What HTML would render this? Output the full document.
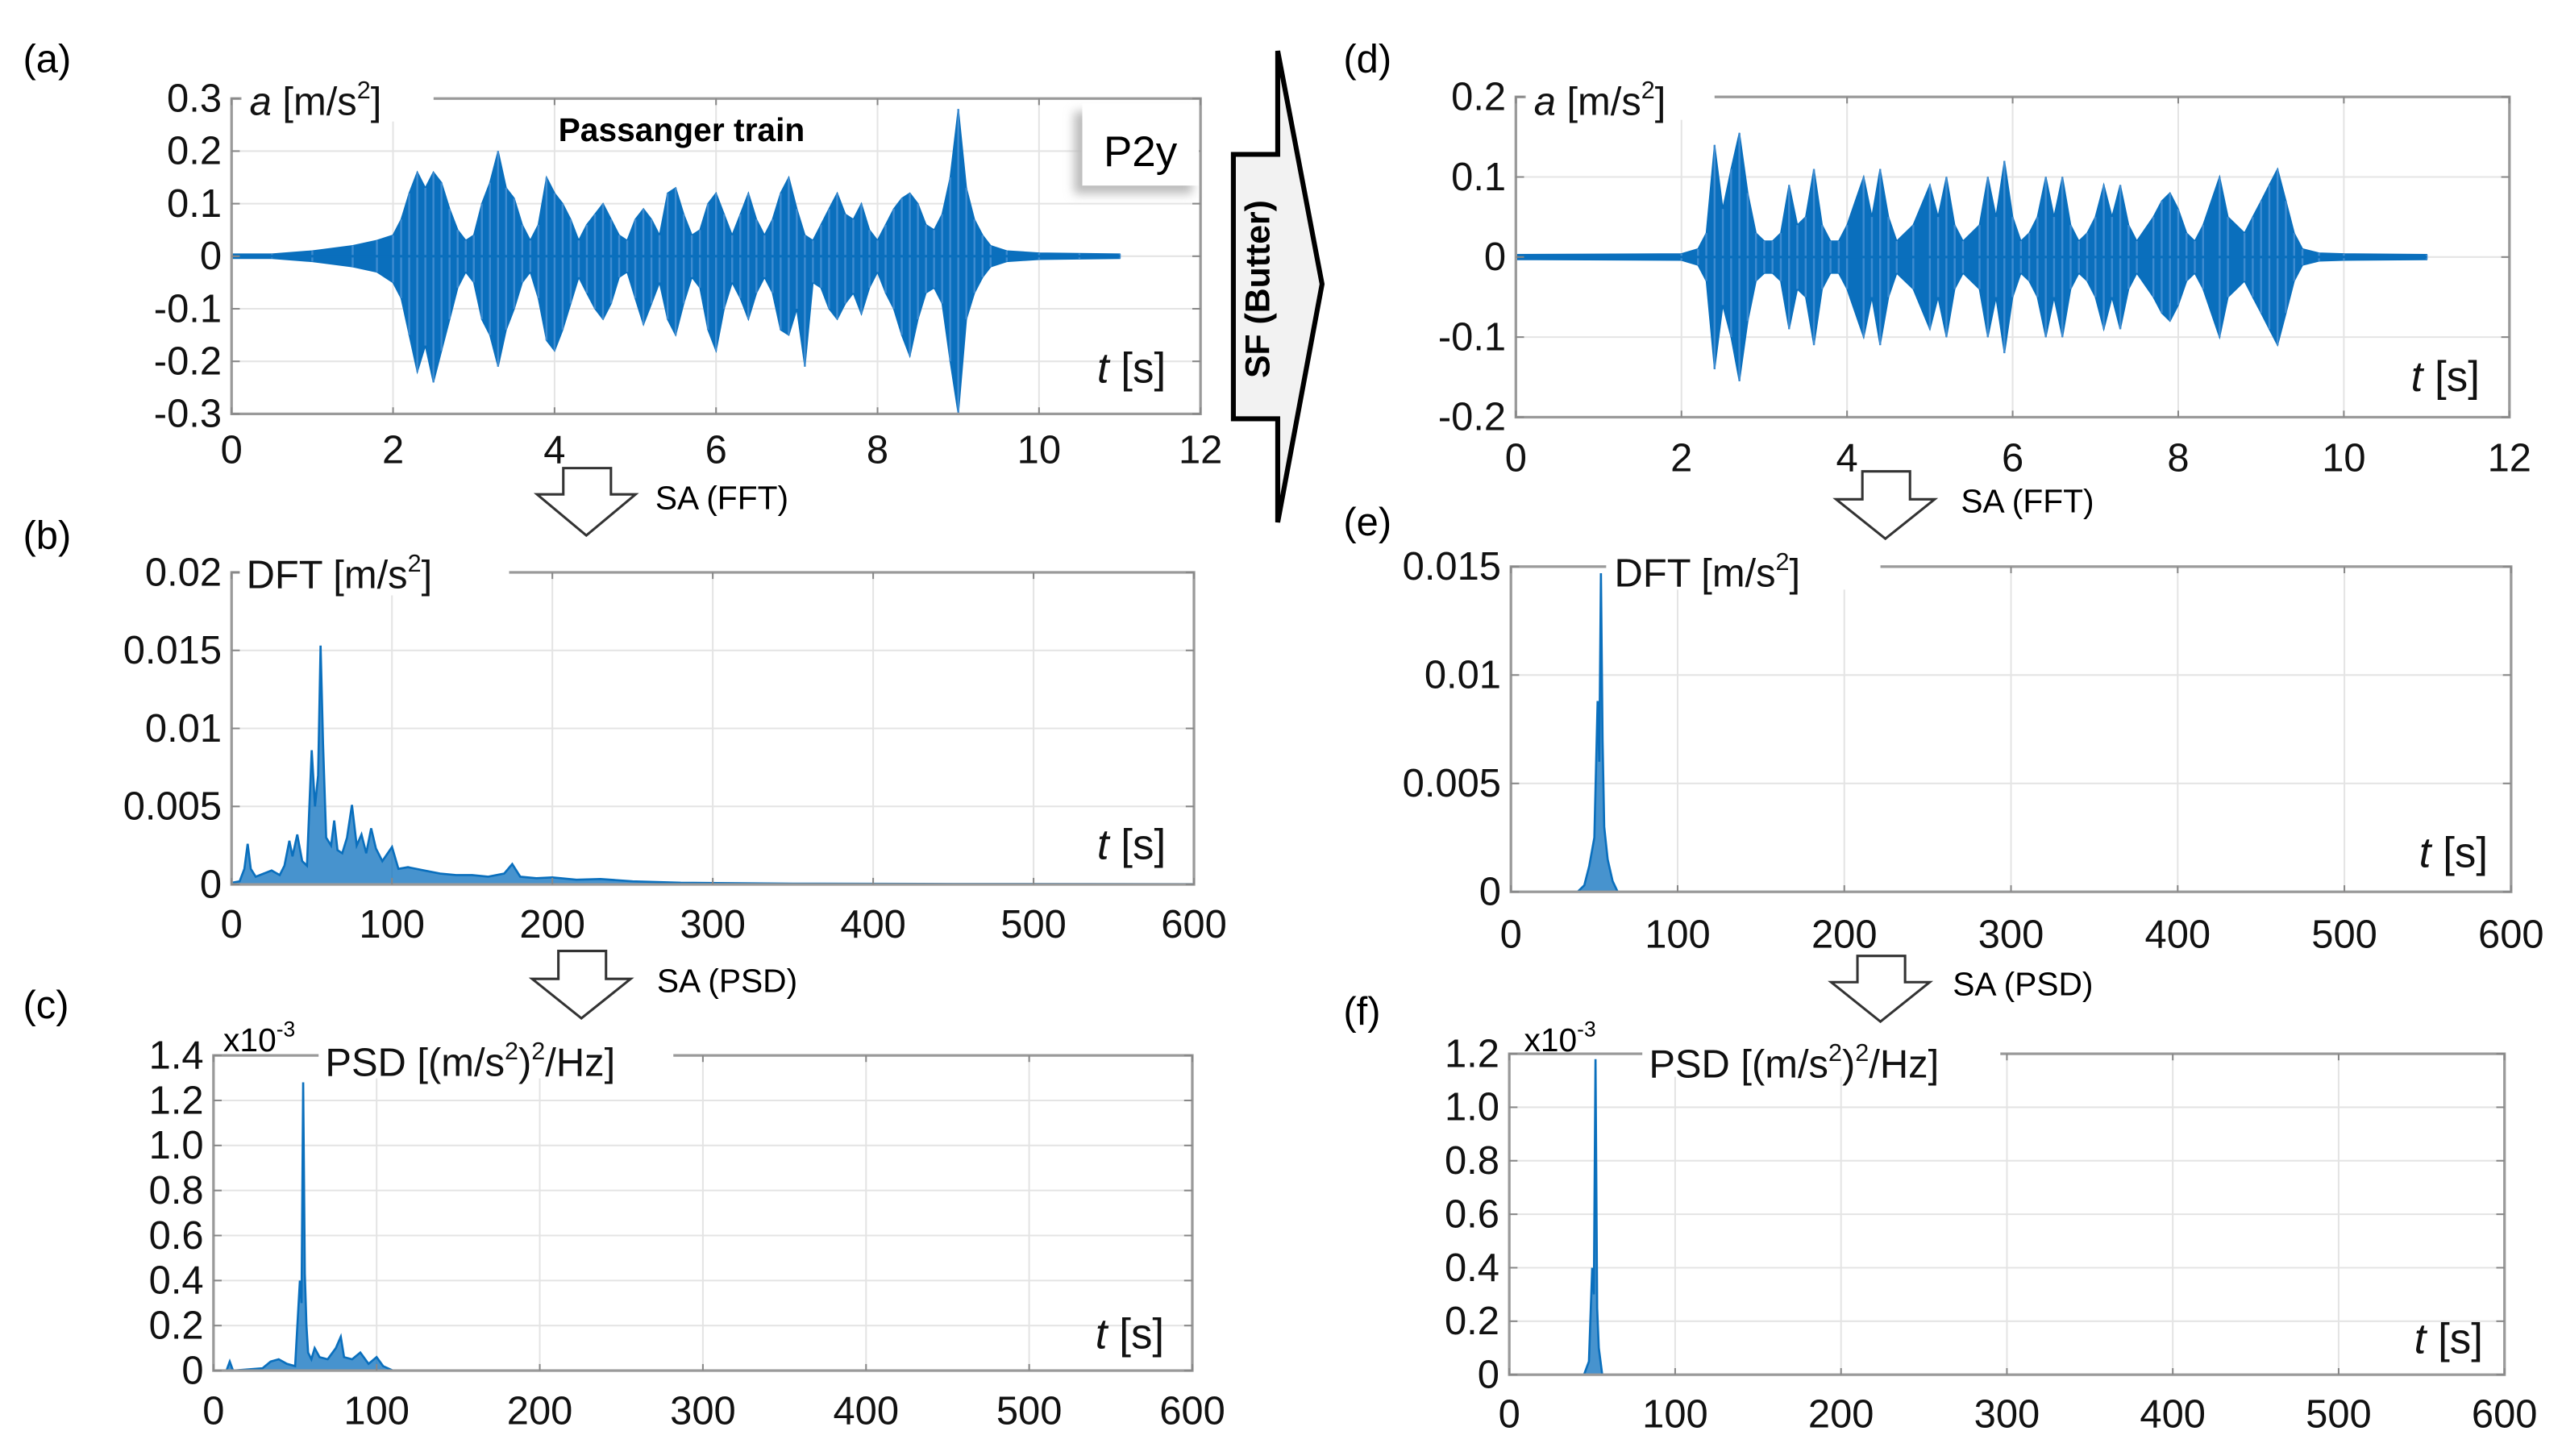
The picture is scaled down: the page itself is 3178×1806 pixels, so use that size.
<!DOCTYPE html>
<html><head><meta charset="utf-8"><style>
html,body{margin:0;padding:0;background:#fff;}
svg{display:block;font-family:"Liberation Sans",sans-serif;}
</style></head><body>
<svg id="fig" width="3178" height="1806" viewBox="0 0 1560 886.5" preserveAspectRatio="none" xmlns="http://www.w3.org/2000/svg">
<defs><filter id="blur" x="-20%" y="-20%" width="140%" height="140%"><feGaussianBlur stdDeviation="3"/></filter></defs>
<rect x="0" y="0" width="1560" height="887" fill="#fff"/>
<g id="panels"></g>
<g id="annot">
  <text x="14" y="44" font-size="24">(a)</text>
  <text x="14" y="334" font-size="24">(b)</text>
  <text x="14" y="620" font-size="24">(c)</text>
  <text x="818" y="44" font-size="24">(d)</text>
  <text x="818" y="326" font-size="24">(e)</text>
  <text x="818" y="624" font-size="24">(f)</text>
  <g>
    <polygon points="751,94 778,94 778,31 805,173 778,318 778,255 751,255" fill="#f2f2f2" stroke="#000" stroke-width="3"/>
    <text x="0" y="0" transform="translate(773,176) rotate(-90)" text-anchor="middle" font-size="21" font-weight="bold">SF (Butter)</text>
  </g>
  <g>
    <polygon points="343,285 372,285 372,301 387,301 357,326 327,301 343,301" fill="#fff" stroke="#333" stroke-width="1.5"/>
    <text x="399" y="310" font-size="20">SA (FFT)</text>
  </g>
  <g>
    <polygon points="340,579 369,579 369,596 384,596 354,620 324,596 340,596" fill="#fff" stroke="#333" stroke-width="1.5"/>
    <text x="400" y="604" font-size="20">SA (PSD)</text>
  </g>
  <g>
    <polygon points="1134,287 1163,287 1163,304 1178,304 1148,328 1118,304 1134,304" fill="#fff" stroke="#333" stroke-width="1.5"/>
    <text x="1194" y="312" font-size="20">SA (FFT)</text>
  </g>
  <g>
    <polygon points="1131,582 1160,582 1160,598 1175,598 1145,622 1115,598 1131,598" fill="#fff" stroke="#333" stroke-width="1.5"/>
    <text x="1189" y="606" font-size="20">SA (PSD)</text>
  </g>
  <g>
    <rect x="654" y="68" width="72" height="50" fill="#bbb" filter="url(#blur)"/>
    <rect x="659" y="63" width="71" height="50" fill="#fff"/>
    <text x="672" y="101" font-size="26">P2y</text>
  </g>
  <text x="340" y="86" font-size="20" font-weight="bold">Passanger train</text>
  <text x="136" y="640" font-size="20">x10<tspan font-size="13" dy="-9">-3</tspan></text>
  <text x="928" y="640" font-size="20">x10<tspan font-size="13" dy="-9">-3</tspan></text>
</g>
</svg>
<script>
// ---------- data ----------
const tA = [0,0.5,1.0,1.5,1.8,2.0,2.1,2.2,2.3,2.4,2.5,2.6,2.7,2.8,2.9,3.0,3.1,3.2,3.3,3.4,3.5,3.6,3.7,3.8,3.9,4.0,4.1,4.2,4.3,4.4,4.5,4.6,4.7,4.8,4.9,5.0,5.1,5.2,5.3,5.4,5.5,5.6,5.7,5.8,5.9,6.0,6.1,6.2,6.3,6.4,6.5,6.6,6.7,6.8,6.9,7.0,7.1,7.2,7.3,7.4,7.5,7.6,7.7,7.8,7.9,8.0,8.1,8.2,8.3,8.4,8.5,8.6,8.7,8.8,8.9,9.0,9.1,9.2,9.3,9.4,9.6,10.0,10.5,11.0];
const posA = [0.004,0.004,0.01,0.02,0.03,0.04,0.07,0.12,0.16,0.13,0.16,0.14,0.09,0.05,0.03,0.04,0.1,0.14,0.2,0.13,0.11,0.06,0.03,0.06,0.15,0.12,0.1,0.07,0.03,0.06,0.08,0.1,0.07,0.04,0.03,0.07,0.09,0.07,0.04,0.12,0.13,0.08,0.04,0.05,0.1,0.12,0.08,0.04,0.08,0.12,0.07,0.04,0.07,0.12,0.15,0.09,0.04,0.03,0.06,0.09,0.12,0.08,0.07,0.1,0.05,0.03,0.06,0.09,0.11,0.12,0.1,0.06,0.05,0.08,0.15,0.28,0.13,0.07,0.04,0.02,0.01,0.006,0.005,0.004];
const negA = [0.004,0.004,0.01,0.02,0.03,0.05,0.08,0.15,0.22,0.17,0.24,0.18,0.12,0.06,0.03,0.05,0.12,0.15,0.21,0.14,0.1,0.05,0.03,0.08,0.16,0.18,0.14,0.09,0.04,0.07,0.1,0.12,0.09,0.04,0.03,0.08,0.13,0.09,0.05,0.12,0.15,0.09,0.04,0.06,0.14,0.18,0.1,0.05,0.08,0.12,0.07,0.04,0.07,0.14,0.15,0.1,0.21,0.05,0.06,0.1,0.12,0.09,0.07,0.11,0.06,0.03,0.07,0.1,0.15,0.19,0.12,0.07,0.06,0.09,0.2,0.3,0.12,0.07,0.04,0.02,0.01,0.006,0.005,0.004];

const tD = [0,2.0,2.2,2.3,2.4,2.5,2.6,2.7,2.8,2.9,3.0,3.1,3.2,3.3,3.4,3.5,3.6,3.7,3.8,3.9,4.0,4.2,4.3,4.4,4.5,4.6,4.8,5.0,5.1,5.2,5.3,5.4,5.6,5.7,5.8,5.9,6.0,6.1,6.2,6.3,6.4,6.5,6.6,6.7,6.8,6.9,7.0,7.1,7.2,7.3,7.4,7.5,7.7,7.8,7.9,8.0,8.1,8.2,8.3,8.5,8.6,8.8,8.9,9.0,9.1,9.2,9.3,9.4,9.5,9.7,10,11];
const posD = [0.003,0.004,0.01,0.03,0.14,0.06,0.11,0.155,0.08,0.03,0.02,0.02,0.03,0.09,0.04,0.05,0.11,0.04,0.02,0.02,0.04,0.1,0.05,0.11,0.05,0.02,0.04,0.09,0.05,0.1,0.04,0.02,0.04,0.1,0.05,0.12,0.05,0.02,0.03,0.05,0.1,0.05,0.1,0.04,0.02,0.03,0.05,0.09,0.05,0.09,0.04,0.02,0.05,0.07,0.08,0.06,0.03,0.02,0.04,0.1,0.05,0.03,0.05,0.07,0.09,0.11,0.07,0.03,0.01,0.005,0.004,0.003];
const negD = [0.003,0.004,0.01,0.03,0.14,0.06,0.1,0.155,0.08,0.03,0.02,0.02,0.03,0.09,0.04,0.05,0.11,0.04,0.02,0.02,0.04,0.1,0.05,0.11,0.05,0.02,0.04,0.09,0.05,0.1,0.04,0.02,0.04,0.1,0.05,0.12,0.05,0.02,0.03,0.05,0.1,0.05,0.1,0.04,0.02,0.03,0.05,0.09,0.05,0.09,0.04,0.02,0.05,0.07,0.08,0.06,0.03,0.02,0.04,0.1,0.05,0.03,0.05,0.07,0.09,0.11,0.07,0.03,0.01,0.005,0.004,0.003];

const freqB = [0,5,8,10,12,15,20,25,30,33,36,38,41,44,47,50,52,54,55.5,57,59,62,64,66,69,72,75,78,81,84,87,90,94,100,104,110,120,130,140,150,160,170,175,180,190,200,215,230,250,280,350,450,600];
const ampB = [0.0001,0.0002,0.001,0.0026,0.001,0.0005,0.0007,0.0009,0.0006,0.0012,0.0028,0.0018,0.0032,0.0015,0.0012,0.0086,0.005,0.007,0.0153,0.009,0.003,0.0025,0.0041,0.0022,0.002,0.003,0.0051,0.0025,0.0032,0.002,0.0036,0.0023,0.0015,0.0024,0.001,0.0011,0.0009,0.0007,0.0006,0.0006,0.0005,0.0007,0.0013,0.0005,0.0004,0.00045,0.0003,0.00035,0.0002,0.0001,0.00005,0.00003,0.00002];

const freqE = [0,40,44,47,50,52,53,54,55,56,58,61,64,600];
const ampE = [0,0,0.0003,0.0012,0.0025,0.0088,0.006,0.0147,0.007,0.003,0.0015,0.0005,0,0];

const freqC = [0,8,10,12,30,35,40,45,50,53,54,55,56,57,58,60,62,65,70,75,78,80,85,90,95,100,104,110,600];
const psdC = [0,0,0.04,0,0.01,0.04,0.05,0.03,0.02,0.4,0.3,1.28,0.43,0.2,0.08,0.05,0.1,0.06,0.05,0.1,0.15,0.06,0.05,0.08,0.03,0.06,0.02,0,0]; // x1e-3

const freqF = [0,45,48,50,51,52,53,54,56,600];
const psdF = [0,0,0.05,0.4,0.3,1.18,0.25,0.1,0,0]; // x1e-3

const ticksTime = ['0','2','4','6','8','10','12'];
const ticksFreq = ['0','100','200','300','400','500','600'];
const ticksYA = ['-0.3','-0.2','-0.1','0','0.1','0.2','0.3'];
const ticksYD = ['-0.2','-0.1','0','0.1','0.2'];
const ticksYB = ['0','0.005','0.01','0.015','0.02'];
const ticksYE = ['0','0.005','0.01','0.015'];
const ticksYC = ['0','0.2','0.4','0.6','0.8','1.0','1.2','1.4'];
const ticksYF = ['0','0.2','0.4','0.6','0.8','1.0','1.2'];

// ---------- drawing ----------
const NS = 'http://www.w3.org/2000/svg';
const root = document.getElementById('panels');
const BLUE = '#0a6fbd';
function mk(tag, attrs, parent){
  const e = document.createElementNS(NS, tag);
  for (const k in attrs) e.setAttribute(k, attrs[k]);
  (parent||root).appendChild(e);
  return e;
}
function panel(p){
  const g = mk('g', {});
  
  
  const sx = v => p.L + (v - p.x0) / (p.x1 - p.x0) * (p.R - p.L);
  const sy = v => p.B - (v - p.y0) / (p.y1 - p.y0) * (p.B - p.T);
  p.xt.forEach(t => { const x = sx(+t);
    mk('line', {x1:x, x2:x, y1:p.T, y2:p.B, stroke:'#e4e4e4', 'stroke-width':1}, g); });
  p.yt.forEach(t => { const y = sy(+t);
    mk('line', {x1:p.L, x2:p.R, y1:y, y2:y, stroke:'#e4e4e4', 'stroke-width':1}, g); });
  const dg = mk('g', {}, g);
  
  
  if (p.type === 'band') {
    const n = Math.min(p.xs.length, p.pos.length, p.neg.length);
    let pts = [];
    for (let i=0;i<n;i++) pts.push(sx(p.xs[i]).toFixed(1)+','+sy(p.pos[i]).toFixed(1));
    for (let i=n-1;i>=0;i--) pts.push(sx(p.xs[i]).toFixed(1)+','+sy(-p.neg[i]).toFixed(1));
    mk('polygon', {points:pts.join(' '), fill:BLUE, stroke:BLUE, 'stroke-width':0.8}, dg);
    for (let i=0;i<n;i++) {
      const l = mk('line', {x1:sx(p.xs[i]), x2:sx(p.xs[i]), y1:sy(p.pos[i]), y2:sy(-p.neg[i]), stroke:'#3d8bd0', 'stroke-width':1.2}, dg);
      
      
    }
    mk('line', {x1:sx(p.xs[0]), x2:sx(p.xs[n-1]), y1:sy(0), y2:sy(0), stroke:BLUE, 'stroke-width':1.5}, dg);
  } else {
    const n = Math.min(p.xs.length, p.ys.length);
    let pts = [];
    for (let i=0;i<n;i++) pts.push(sx(p.xs[i]).toFixed(1)+','+sy(p.ys[i]).toFixed(1));
    const area = [sx(p.xs[0]).toFixed(1)+','+sy(0)].concat(pts, [sx(p.xs[n-1]).toFixed(1)+','+sy(0)]);
    mk('polygon', {points:area.join(' '), fill:BLUE, 'fill-opacity':0.75}, dg);
    mk('polyline', {points:pts.join(' '), fill:'none', stroke:BLUE, 'stroke-width':1.3}, dg);
  }
  mk('rect', {x:p.L, y:p.T, width:p.R-p.L, height:p.B-p.T, fill:'none', stroke:'#9a9a9a', 'stroke-width':1.6}, g);
  p.xt.forEach(t => { const x = sx(+t);
    mk('line', {x1:x, x2:x, y1:p.B, y2:p.B-4, stroke:'#888', 'stroke-width':1}, g);
    mk('line', {x1:x, x2:x, y1:p.T, y2:p.T+4, stroke:'#888', 'stroke-width':1}, g);
    const tx = mk('text', {x:x, y:p.xly, 'text-anchor':'middle', 'font-size':24, fill:'#111'}, g);
    
    
    tx.textContent = t; });
  p.yt.forEach(t => { const y = sy(+t);
    mk('line', {x1:p.L, x2:p.L+5, y1:y, y2:y, stroke:'#888', 'stroke-width':1}, g);
    mk('line', {x1:p.R, x2:p.R-5, y1:y, y2:y, stroke:'#888', 'stroke-width':1}, g);
    const tx = mk('text', {x:p.L-6, y:y+8, 'text-anchor':'end', 'font-size':24, fill:'#111'}, g);
    
    
    tx.textContent = t; });
  mk('rect', {x:p.gap[0], y:p.T-14, width:p.gap[1]-p.gap[0], height:28, fill:'#fff'}, g);
  const yl = mk('text', {x:p.lab[0], y:p.lab[1], 'font-size':24, fill:'#111'}, g);
  
  
  yl.innerHTML = p.labHTML;
  const xl = mk('text', {x:p.tl[0], y:p.tl[1], 'font-size':26, fill:'#111'}, g);
  
  
  xl.innerHTML = '<tspan font-style="italic">t</tspan> [s]';
}
const A_LAB = '<tspan font-style="italic">a</tspan> [m/s<tspan font-size="15" dy="-10">2</tspan><tspan dy="10">]</tspan>';
const DFT_LAB = 'DFT [m/s<tspan font-size="15" dy="-10">2</tspan><tspan dy="10">]</tspan>';
const PSD_LAB = 'PSD [(m/s<tspan font-size="15" dy="-10">2</tspan><tspan dy="10">)</tspan><tspan font-size="15" dy="-10">2</tspan><tspan dy="10">/Hz]</tspan>';

panel({name:'panel-a-raw-signal', type:'band', xs:tA, pos:posA, neg:negA, L:141,R:731,T:60,B:252, x0:0,x1:12,y0:-0.3,y1:0.3,
  xt:ticksTime, yt:ticksYA, xly:282, gap:[147,264], lab:[152,70], labHTML:A_LAB, tl:[668,233]});
panel({name:'panel-d-filtered-signal', type:'band', xs:tD, pos:posD, neg:negD, L:923,R:1528,T:59,B:254, x0:0,x1:12,y0:-0.2,y1:0.2,
  xt:ticksTime, yt:ticksYD, xly:287, gap:[929,1044], lab:[934,70], labHTML:A_LAB, tl:[1468,238]});
panel({name:'panel-b-dft', type:'line', xs:freqB, ys:ampB, L:141,R:727,T:348.5,B:538.5, x0:0,x1:600,y0:0,y1:0.02,
  xt:ticksFreq, yt:ticksYB, xly:571, gap:[146,310], lab:[150,358], labHTML:DFT_LAB, tl:[668,523]});
panel({name:'panel-e-dft-filtered', type:'line', xs:freqE, ys:ampE, L:920,R:1529,T:345,B:543, x0:0,x1:600,y0:0,y1:0.015,
  xt:ticksFreq, yt:ticksYE, xly:577, gap:[978,1145], lab:[983,357], labHTML:DFT_LAB, tl:[1473,528]});
panel({name:'panel-c-psd', type:'line', xs:freqC, ys:psdC, L:130,R:726,T:642.6,B:834.5, x0:0,x1:600,y0:0,y1:1.4,
  xt:ticksFreq, yt:ticksYC, xly:867, gap:[194,410], lab:[198,655], labHTML:PSD_LAB, tl:[667,821]});
panel({name:'panel-f-psd-filtered', type:'line', xs:freqF, ys:psdF, L:919,R:1525,T:641.6,B:837, x0:0,x1:600,y0:0,y1:1.2,
  xt:ticksFreq, yt:ticksYF, xly:869, gap:[1000,1218], lab:[1004,656], labHTML:PSD_LAB, tl:[1470,824]});
</script>
</body></html>
